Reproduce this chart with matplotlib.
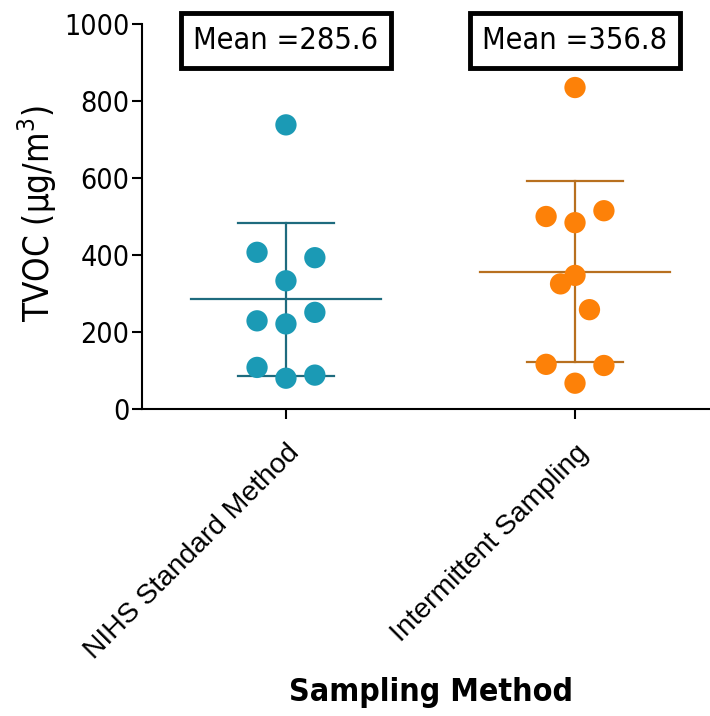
import numpy as np
import matplotlib.pyplot as plt

groups = ['NIHS Standard Method', 'Intermittent Sampling']
nihs = [738, 407, 393, 333, 229, 221, 251, 108, 80, 88]
nihs_lane = [0, -1, 1, 0, -1, 0, 1, -1, 0, 1]
inter = [835, 500, 484, 515, 347, 325, 258, 116, 113, 67]
inter_lane = [0, -1, 0, 1, 0, -0.5, 0.5, -1, 1, 0]
means = [285.6, 356.8]
sds = [198.7, 235.5]
yticks = [0, 200, 400, 600, 800, 1000]

dot_colors = ['#1b9ab5', '#fd8108']
line_colors = ['#1e6b7e', '#b8701f']
tick_font = dict(family='DejaVu Sans', stretch='condensed')

fig = plt.figure(figsize=(7.1, 7.16), dpi=100)
ax = fig.add_axes([142/710, 307/716, 568/710, 385/716])

lane_w = 0.1
for i, (vals, lanes) in enumerate([(nihs, nihs_lane), (inter, inter_lane)]):
    x = i + lane_w * np.array(lanes)
    ax.scatter(x, vals, s=235, color=dot_colors[i], edgecolors='none', zorder=3)
    m, sd = means[i], sds[i]
    ax.plot([i - 0.33, i + 0.33], [m, m], color=line_colors[i], lw=1.6, zorder=2)
    ax.plot([i, i], [m - sd, m + sd], color=line_colors[i], lw=1.6, zorder=2)
    for y in (m - sd, m + sd):
        ax.plot([i - 0.165, i + 0.165], [y, y], color=line_colors[i], lw=1.6, zorder=2)
    ax.text(i, 958, 'Mean =%.1f' % m, ha='center', va='center', fontsize=22,
            fontfamily='DejaVu Sans', fontstretch='condensed', clip_on=False,
            bbox=dict(boxstyle='square,pad=0.42', fc='white', ec='black', lw=3.5),
            zorder=5)

ax.set_xlim(-0.498, 1.467)
ax.set_ylim(0, 1000)
ax.set_yticks(yticks)
ax.set_yticklabels([str(t) for t in yticks], fontsize=20.5, **tick_font)
ax.set_xticks([0, 1])
ax.set_xticklabels(groups, rotation=45, ha='right', rotation_mode='anchor',
                   fontsize=20.3, fontfamily='Liberation Sans')
ax.tick_params(axis='both', width=1.5, length=7, color='black')
ax.tick_params(axis='x', pad=15)
ax.tick_params(axis='y', pad=2)
for s in ['top', 'right']:
    ax.spines[s].set_visible(False)
for s in ['left', 'bottom']:
    ax.spines[s].set_linewidth(1.5)

fig.text(37/710, 1 - 214/716, r'TVOC ($\mathregular{\mu}$g/m$^{\mathregular{3}}$)',
         rotation=90, ha='center', va='center', fontsize=25, **tick_font)
fig.text(431/710, 1 - 693/716, 'Sampling Method', ha='center', va='center',
         fontsize=23, fontweight='bold', **tick_font)

fig.savefig('out.png', dpi=100)
